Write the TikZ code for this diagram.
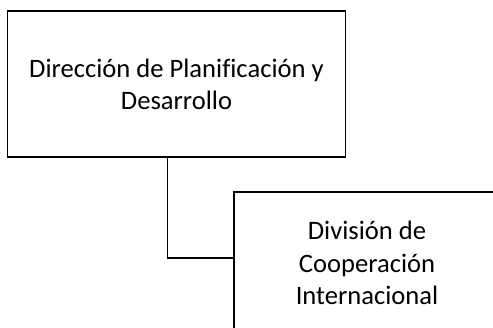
\documentclass[tikz,border=0pt]{standalone}
\usepackage{fontspec}
\setmainfont[Ligatures=NoCommon]{Carlito}
\usetikzlibrary{positioning}

\begin{document}
\begin{tikzpicture}[x=1pt,y=-1pt]
\tikzstyle{every node}=[inner sep=0pt, align=center, font=\fontsize{26.6}{32.2}\selectfont]
\tikzstyle{unit}=[draw, line width=1.4pt, rectangle]
\useasboundingbox (0,0) rectangle (493,328);
\clip (0,0) rectangle (493,328);
\node (dir) [unit, minimum width=338pt, minimum height=146pt] at (176.5,84) {Dirección de Planificación y\\Desarrollo};
\node (div) [unit, minimum width=266pt, minimum height=142pt] at (367,263) {División de\\Cooperación\\Internacional};
\draw[line width=1.4pt] ([xshift=-9pt]dir.south) |- ([yshift=5pt]div.west);
\end{tikzpicture}
\end{document}
